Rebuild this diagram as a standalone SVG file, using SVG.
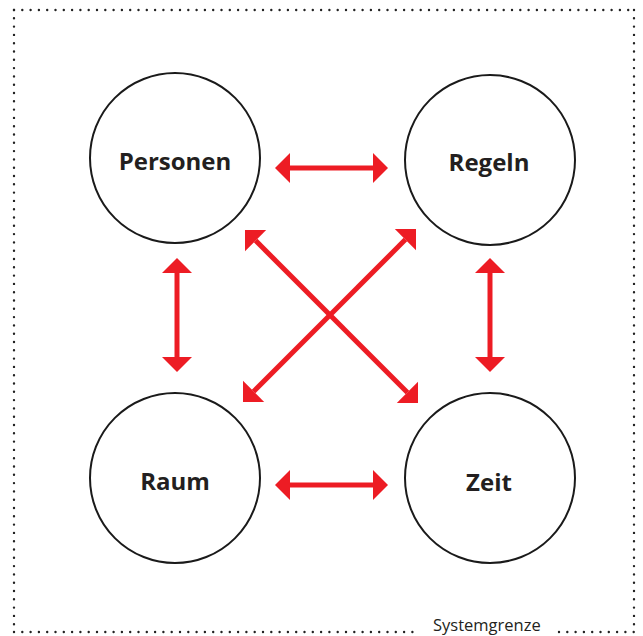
<svg xmlns="http://www.w3.org/2000/svg" width="643" height="636" viewBox="0 0 643 636">
<style>
.border{stroke:#222;stroke-width:2.4;stroke-linecap:round;stroke-dasharray:0 8.3;fill:none}
.node{fill:#fff;stroke:#1a1a1a;stroke-width:2}
.label{font-family:"Open Sans","Noto Sans","Liberation Sans",sans-serif;font-weight:bold;font-size:24px;fill:#231f20;text-anchor:middle}
.sys{font-family:"Open Sans","Noto Sans","Liberation Sans",sans-serif;font-size:16.5px;fill:#231f20}
.arrow{stroke:#ED1C24;stroke-width:5;fill:none;marker-start:url(#head);marker-end:url(#head)}
</style>
<defs>
<marker id="head" markerUnits="userSpaceOnUse" markerWidth="16" markerHeight="30" refX="0" refY="0" orient="auto-start-reverse" overflow="visible">
<path d="M0,-15 L15,0 L0,15 z" fill="#ED1C24"/>
</marker>
</defs>
<rect width="643" height="636" fill="#fff"/>
<g id="systemgrenze">
<line class="border" x1="14" y1="10" x2="634" y2="10"/>
<line class="border" x1="14" y1="10" x2="14" y2="632"/>
<line class="border" x1="634" y1="10" x2="634" y2="632"/>
<line class="border" x1="14" y1="632" x2="420" y2="632"/>
<line class="border" x1="559" y1="632" x2="634" y2="632"/>
<text class="sys" x="433" y="631">Systemgrenze</text>
</g>
<g id="connectors">
<line class="arrow" x1="290" y1="168" x2="373" y2="168"/>
<line class="arrow" x1="290" y1="485" x2="373" y2="485"/>
<line class="arrow" x1="177" y1="273" x2="177" y2="357"/>
<line class="arrow" x1="490" y1="273" x2="490" y2="357"/>
<line class="arrow" x1="255.6" y1="240.6" x2="407.4" y2="392.4"/>
<line class="arrow" x1="405.4" y1="239.6" x2="253.6" y2="391.4"/>
</g>
<g id="personen">
<circle class="node" cx="175" cy="158" r="85"/>
<text class="label" x="175" y="170">Personen</text>
</g>
<g id="regeln">
<circle class="node" cx="490" cy="160" r="85"/>
<text class="label" x="489" y="171">Regeln</text>
</g>
<g id="raum">
<circle class="node" cx="175" cy="478" r="85"/>
<text class="label" x="175" y="490">Raum</text>
</g>
<g id="zeit">
<circle class="node" cx="490" cy="478" r="85"/>
<text class="label" x="489" y="491">Zeit</text>
</g>
</svg>
